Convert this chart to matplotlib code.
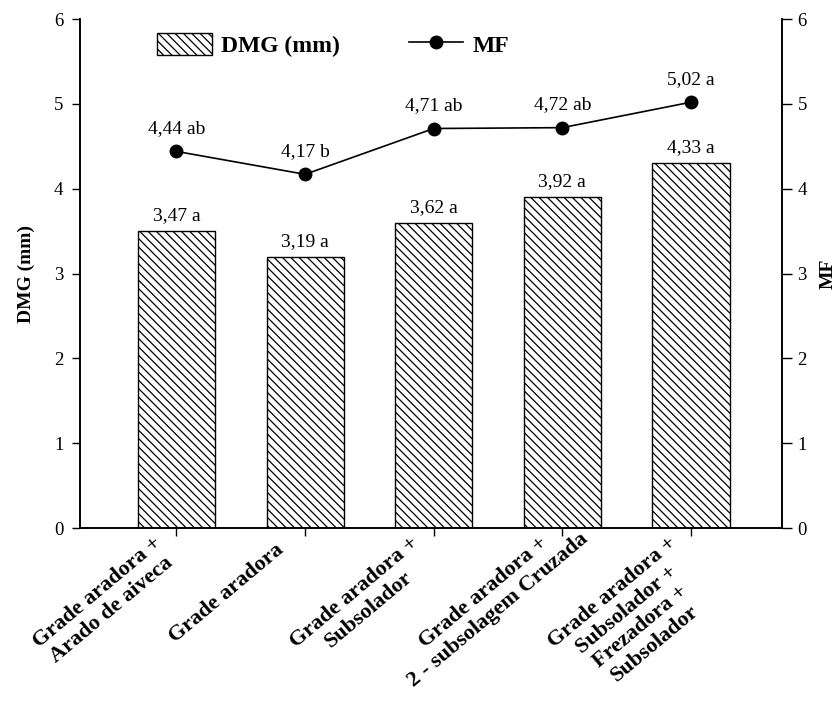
import numpy as np
import matplotlib as mpl
import matplotlib.pyplot as plt
from matplotlib.transforms import offset_copy

plt.rcParams['font.family'] = 'Liberation Serif'
plt.rcParams['hatch.linewidth'] = 0.9

# dados
categorias = ['Grade aradora +\nArado de aiveca',
              'Grade aradora',
              'Grade aradora +\nSubsolador',
              'Grade aradora +\n2 - subsolagem Cruzada',
              'Grade aradora +\nSubsolador +\nFrezadora +\nSubsolador']
dmg = [3.50, 3.20, 3.60, 3.90, 4.30]
dmg_rotulos = ['3,47 a', '3,19 a', '3,62 a', '3,92 a', '4,33 a']
mf = [4.44, 4.17, 4.71, 4.72, 5.02]
mf_rotulos = ['4,44 ab', '4,17 b', '4,71 ab', '4,72 ab', '5,02 a']

x = np.arange(len(categorias))

fig = plt.figure(figsize=(8.38, 7.06), dpi=100)
ax = fig.add_axes([0.0955, 0.252, 0.838, 0.721])
ax2 = ax.twinx()

# barras DMG
barras = ax.bar(x, dmg, width=0.6, color='white', edgecolor='black',
                linewidth=1.0, hatch='\\\\\\\\', label='DMG (mm)')
for xi, yi, t in zip(x, dmg, dmg_rotulos):
    ax.text(xi, yi + 0.08, t, ha='center', va='bottom', fontsize=14)

# linha MF
linha, = ax2.plot(x, mf, color='black', linewidth=1.2, marker='o',
                  markersize=9, label='MF')
for xi, yi, t in zip(x, mf, mf_rotulos):
    ax2.text(xi, yi + 0.17, t, ha='center', va='bottom', fontsize=14)

# eixos
ax.set_xlim(-0.75, 4.71)
ax.set_ylim(0, 6)
ax2.set_ylim(0, 6)
ax.set_yticks(range(7))
ax2.set_yticks(range(7))
ax.set_xticks(x)
ax.set_xticklabels([])
ax.tick_params(axis='x', length=6, width=1)
ax.tick_params(axis='y', length=6, width=1, labelsize=13.5, pad=6)
ax2.tick_params(axis='y', length=7, width=1, labelsize=13.5, pad=4)

# rotulos do eixo x (blocos centrados, rodados 40 graus)
ang = np.deg2rad(40)
ao, pe = -102, -11   # deslocamento ao longo / perpendicular ao texto (px)
dx = ao * np.cos(ang) + pe * np.sin(ang)
dy = ao * np.sin(ang) - pe * np.cos(ang)
trans = offset_copy(ax.get_xaxis_transform(), fig=fig, x=dx, y=dy, units='dots')
for xi, t in zip(x, categorias):
    ax.text(xi, 0, t, transform=trans, rotation=40, rotation_mode='anchor',
            ha='center', va='top', multialignment='center', fontsize=16,
            fontweight='bold', linespacing=1.15, clip_on=False)

for a in (ax, ax2):
    a.spines['top'].set_visible(False)
    for s in ('left', 'right', 'bottom'):
        a.spines[s].set_linewidth(1.2)

ax.set_ylabel('DMG (mm)', fontsize=14, fontweight='bold', labelpad=14)
ax2.set_ylabel('MF', fontsize=14, fontweight='bold', labelpad=9)

# legenda
ax2.legend([barras, linha], ['DMG (mm)', 'MF'], loc='upper left',
           bbox_to_anchor=(0.08, 1.015), ncol=2, frameon=False,
           prop={'size': 17, 'weight': 'bold'}, handlelength=2.3,
           handleheight=1.1, handletextpad=0.4, columnspacing=2.9)

fig.savefig('out.png', dpi=100)
